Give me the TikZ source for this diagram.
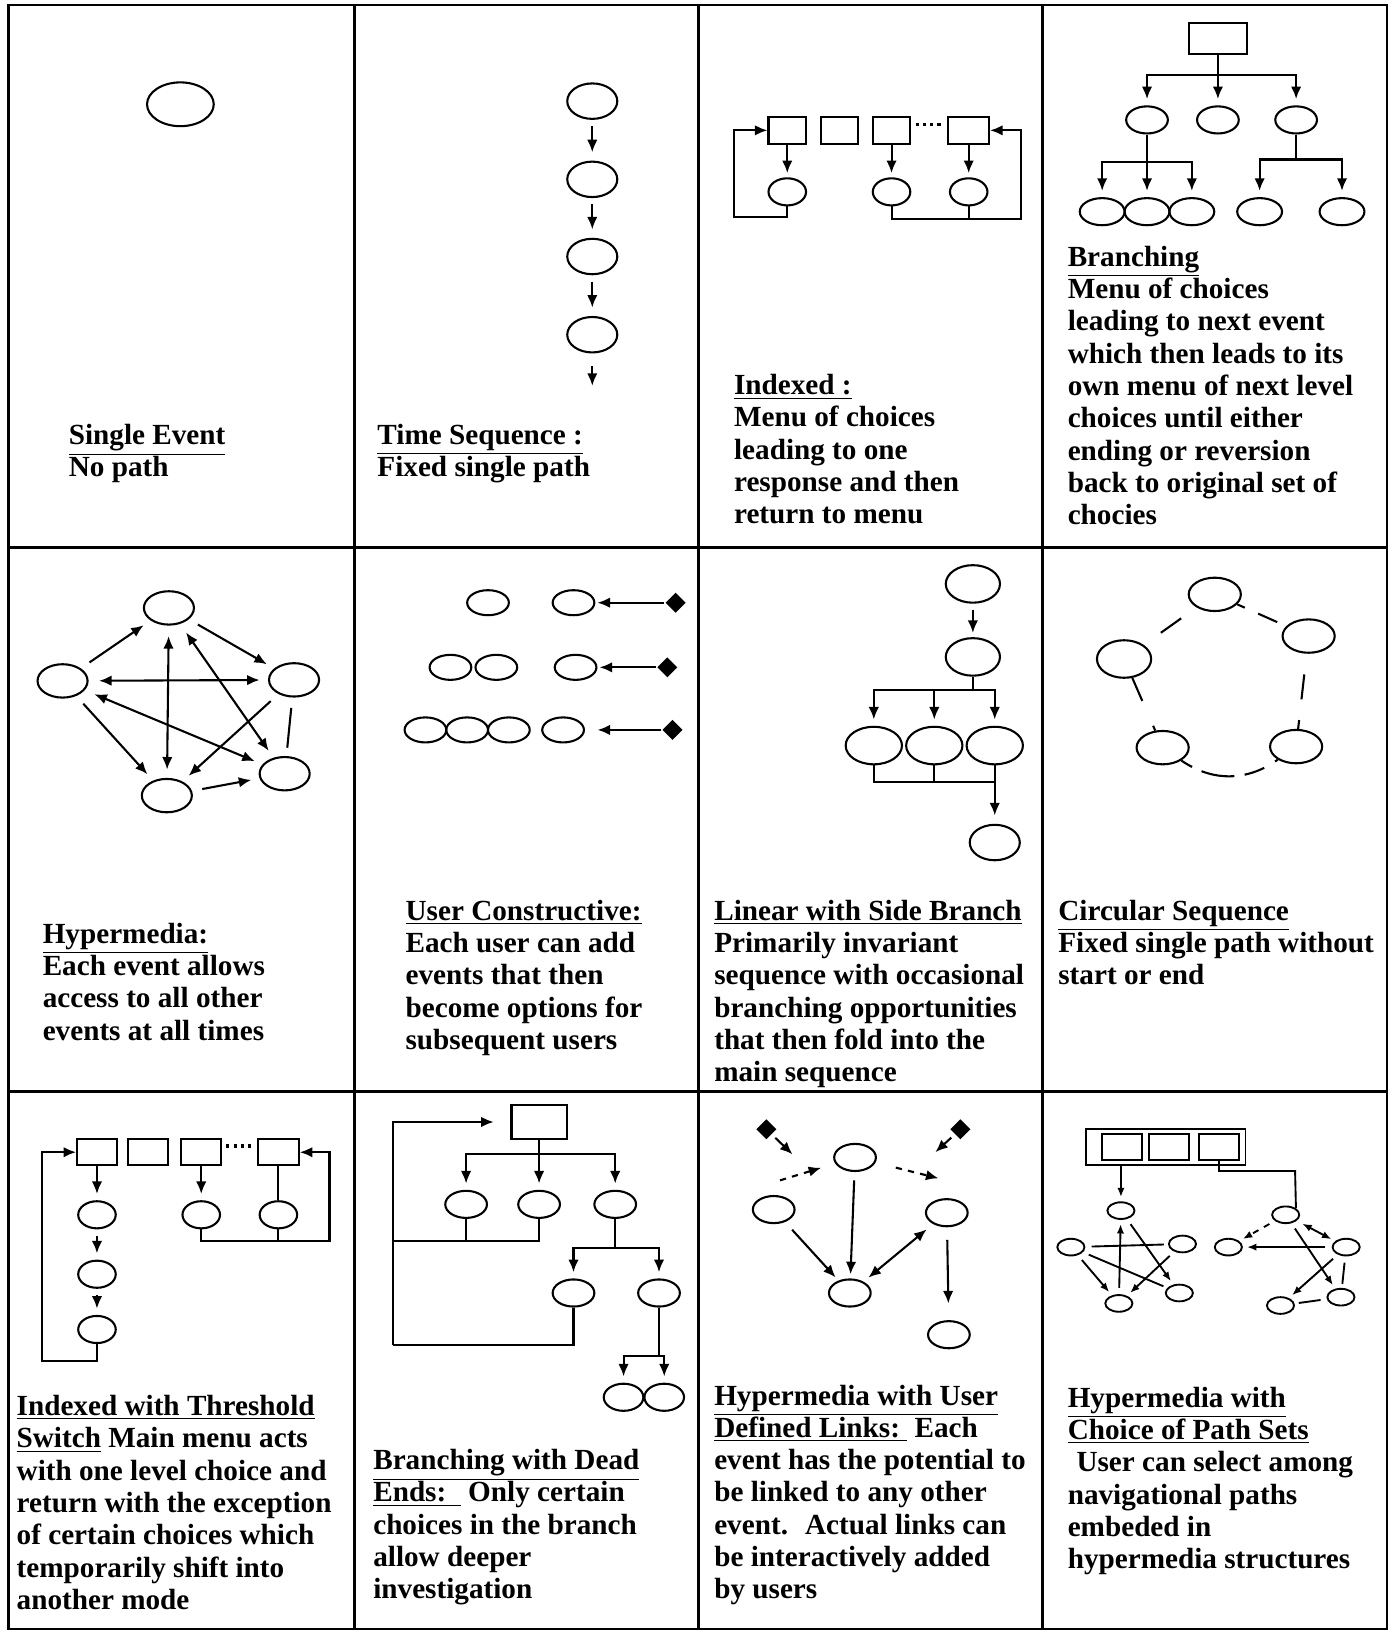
\documentclass[tikz,border=0pt]{standalone}
\usepackage{fontspec}
\setmainfont{Liberation Serif}
\usetikzlibrary{shapes.geometric,arrows.meta}

\tikzset{
  ev/.style 2 args={ellipse,draw,inner sep=0pt,minimum width={#1pt},minimum height={#2pt}},
  menubox/.style 2 args={rectangle,draw,inner sep=0pt,minimum width={#1pt},minimum height={#2pt}},
  user/.style={diamond,fill=black,inner sep=0pt,minimum size=10pt},
  arr/.style={->},
  arrs/.style={<->},
  cellnote/.style={anchor=north west,inner sep=0pt,align=left,font=\fontsize{14}{15.5}\selectfont\bfseries}
}

\begin{document}
\begin{tikzpicture}[x=0.5pt,y=-0.5pt,line width=1pt,>={Latex[length=6pt,width=5pt]}]
\useasboundingbox (0,0) rectangle (1336,1568);

\draw[line width=1.2pt] (8,5) rectangle (1330,1562);
\draw[line width=1.2pt] (340,5) -- (340,1562) (670,5) -- (670,1562) (1000,5) -- (1000,1562);
\draw[line width=1.2pt] (8,525) -- (1330,525) (8,1047) -- (1330,1047);

% single event
\node[ev={32}{21}] (single) at (173,100) {};
\node[cellnote] (t1) at (65,406) {\underline{Single Event}\\No path};

% time sequence
\node[ev={24}{17}] (ts1) at (568,97) {};
\node[ev={24}{17}] (ts2) at (568,172) {};
\node[ev={24}{17}] (ts3) at (568,246) {};
\node[ev={24}{17}] (ts4) at (568,321) {};
\coordinate (tsend) at (568,370);
\draw[arr,shorten <=3pt,shorten >=4pt] (ts1) -- (ts2);
\draw[arr,shorten <=3pt,shorten >=4pt] (ts2) -- (ts3);
\draw[arr,shorten <=3pt,shorten >=4pt] (ts3) -- (ts4);
\draw[arr,shorten <=6pt] (ts4) -- (tsend);
\node[cellnote] (t2) at (361,406) {\underline{Time Sequence :}\\Fixed single path};

% indexed
\node[menubox={18}{13}] (ix1) at (755,125) {};
\node[menubox={18}{13}] (ix2) at (805,125) {};
\node[menubox={18}{13}] (ix3) at (855,125) {};
\node[menubox={19.5}{13}] (ix4) at (929,125) {};
\draw[dotted,line width=1.5pt,shorten <=2pt,shorten >=2pt] ([yshift=3pt]ix3.east) -- ([yshift=3pt]ix4.west);
\node[ev={18}{13}] (ixa) at (755,184) {};
\node[ev={18}{13}] (ixb) at (855,184) {};
\node[ev={18}{13}] (ixc) at (929,184) {};
\draw[arr,shorten >=2pt] (ix1.south) -- (ixa.north);
\draw[arr,shorten >=2pt] (ix3.south) -- (ixb.north);
\draw[arr,shorten >=2pt] (ix4.south) -- (ixc.north);
\coordinate (ixl) at (704,208);
\coordinate (ixr) at (979,210);
\draw[arr] (ixa.south) |- (ixl) |- (ix1.west);
\draw[arr] (ixb.south) |- (ixr) |- (ix4.east);
\draw (ixc.south) -- (ixc.south |- ixr);
\node[cellnote] (t3) at (703,358) {\underline{Indexed :}\\Menu of choices\\leading to one\\response and then\\return to menu};

% branching
\node[menubox={27.5}{15}] (br0) at (1168,37) {};
\node[ev={20}{13}] (br1) at (1100,115) {};
\node[ev={20}{13}] (br2) at (1168,115) {};
\node[ev={20}{13}] (br3) at (1243,115) {};
\node[ev={21.5}{13}] (br11) at (1057,203) {};
\node[ev={21.5}{13}] (br12) at (1100,203) {};
\node[ev={21.5}{13}] (br13) at (1143,203) {};
\node[ev={21.5}{13}] (br31) at (1208,203) {};
\node[ev={21.5}{13}] (br32) at (1287,203) {};
\coordinate (brj) at (1168,72);
\coordinate (brk) at (1100,155);
\coordinate (brm) at (1243,153);
\draw (br0.south) -- (brj);
\draw[arr,shorten >=3pt] (brj) -| (br1.north);
\draw[arr,shorten >=3pt] (brj) -- (br2.north);
\draw[arr,shorten >=3pt] (brj) -| (br3.north);
\draw (br1.south) -- (brk);
\draw[arr,shorten >=3pt] (brk) -| (br11.north);
\draw[arr,shorten >=3pt] (brk) -- (br12.north);
\draw[arr,shorten >=3pt] (brk) -| (br13.north);
\draw (br3.south) -- (brm);
\draw[arr,shorten >=3pt] (brm) -| (br31.north);
\draw[arr,shorten >=3pt] (brm) -| (br32.north);
\node[cellnote] (t4) at (1023,235) {\underline{Branching}\\Menu of choices\\leading to next event\\which then leads to its\\own menu of next level\\choices until either\\ending or reversion\\back to original set of\\chocies};

% hypermedia
\node[ev={24}{16}] (hy1) at (162,583) {};
\node[ev={24}{16}] (hy2) at (60,653) {};
\node[ev={24}{16}] (hy3) at (282,652) {};
\node[ev={24}{16}] (hy4) at (273,742) {};
\node[ev={24}{16}] (hy5) at (160,763) {};
\begin{scope}[shorten <=5pt,shorten >=4pt]
\draw[arr] (hy2) -- (hy1);
\draw[arr] (hy1) -- (hy3);
\draw[arrs] (hy2) -- (hy3);
\draw[arrs] (hy1) -- (hy5);
\draw[arrs] (hy1) -- (hy4);
\draw[arrs] (hy2) -- (hy4);
\draw[arr] (hy3) -- (hy5);
\draw[arr] (hy2) -- (hy5);
\draw (hy3) -- (hy4);
\draw[arr] (hy5) -- (hy4);
\end{scope}
\node[cellnote] (t5) at (40,884) {\underline{Hypermedia:}\\Each event allows\\access to all other\\events at all times};

% user constructive
\node[ev={20}{12}] (uc11) at (468,578) {};
\node[ev={20}{12}] (uc12) at (550,578) {};
\node[user] (ud1) at (648,578) {};
\node[ev={20}{12}] (uc21) at (432,640) {};
\node[ev={20}{12}] (uc22) at (476,640) {};
\node[ev={20}{12}] (uc23) at (552,640) {};
\node[user] (ud2) at (640,640) {};
\node[ev={20}{12}] (uc31) at (408,700) {};
\node[ev={20}{12}] (uc32) at (448,700) {};
\node[ev={20}{12}] (uc33) at (488,700) {};
\node[ev={20}{12}] (uc34) at (540,700) {};
\node[user] (ud3) at (645,700) {};
\draw[arr,shorten >=1pt] (ud1) -- (uc12);
\draw[arr,shorten >=1pt] (ud2) -- (uc23);
\draw[arr,shorten >=6pt] (ud3) -- (uc34);
\node[cellnote] (t6) at (388,862) {\underline{User Constructive:}\\Each user can add\\events that then\\become options for\\subsequent users};

% linear with side branch
\node[ev={26}{18}] (ls1) at (933,560) {};
\node[ev={26}{18}] (ls2) at (933,630) {};
\node[ev={27}{18}] (ls3) at (838,715) {};
\node[ev={27}{18}] (ls4) at (896,715) {};
\node[ev={27}{18}] (ls5) at (954,715) {};
\node[ev={24}{17}] (ls6) at (954,808) {};
\coordinate (lsj) at (933,662);
\coordinate (lsm) at (954,750);
\draw[arr,shorten <=3pt,shorten >=2pt] (ls1) -- (ls2);
\draw (ls2.south) -- (lsj);
\draw[arr,shorten >=3pt] (lsj) -| (ls3.north);
\draw[arr,shorten >=3pt] (lsj) -| (ls4.north);
\draw[arr,shorten >=3pt] (lsj) -| (ls5.north);
\draw (ls3.south) |- (lsm);
\draw (ls4.south) -- (ls4.south |- lsm);
\draw[arr,shorten >=4pt] (ls5.south) -- (ls6.north);
\node[cellnote] (t7) at (684,862) {\underline{Linear with Side Branch}\\Primarily invariant\\sequence with occasional\\branching opportunities\\that then fold into the\\main sequence};

% circular sequence
\node[ev={25}{16}] (cs1) at (1165,570) {};
\node[ev={25}{16}] (cs2) at (1255,610) {};
\node[ev={25}{16}] (cs3) at (1243,716) {};
\node[ev={25}{16}] (cs4) at (1115,717) {};
\node[ev={26}{18}] (cs5) at (1078,632) {};
\draw[shorten <=10pt,shorten >=9pt] (cs5) -- (cs1);
\draw[dash pattern=on 4pt off 7pt on 10pt off 30pt] (cs1) -- (cs2);
\draw[dash pattern=on 0pt off 10pt on 12pt off 10pt on 4pt] (cs2) -- (cs3);
\draw[dash pattern=on 6pt off 5pt on 16pt off 5pt on 10pt] (cs4) to[bend right=35] (cs3);
\draw[dash pattern=on 12pt off 13pt on 4pt] (cs5) -- (cs4);
\node[cellnote] (t8) at (1014,862) {\underline{Circular Sequence}\\Fixed single path without\\start or end};

% indexed with threshold switch
\node[menubox={19}{12.5}] (th1) at (93,1105) {};
\node[menubox={19}{12.5}] (th2) at (142,1105) {};
\node[menubox={19}{12.5}] (th3) at (193,1105) {};
\node[menubox={19.5}{12.5}] (th4) at (267,1105) {};
\draw[dotted,line width=1.5pt,shorten <=2pt,shorten >=2pt] ([yshift=3pt]th3.east) -- ([yshift=3pt]th4.west);
\node[ev={18}{13}] (tha) at (93,1165) {};
\node[ev={18}{13}] (thb) at (93,1222) {};
\node[ev={18}{13}] (thc) at (93,1275) {};
\node[ev={18}{13}] (thd) at (193,1165) {};
\node[ev={18}{13}] (the) at (267,1165) {};
\draw[arr,shorten >=3pt] (th1.south) -- (tha.north);
\draw[arr,shorten <=3pt,shorten >=3pt] (tha.south) -- (thb.north);
\draw[arr,shorten <=3pt,shorten >=3pt] (thb.south) -- (thc.north);
\draw[arr,shorten >=3pt] (th3.south) -- (thd.north);
\draw (th4.south) -- (the.north);
\coordinate (thl) at (40,1305);
\coordinate (thr) at (316,1190);
\draw[arr] (thc.south) |- (thl) |- (th1.west);
\draw[arr] (thd.south) |- (thr) |- (th4.east);
\draw (the.south) -- (the.south |- thr);
\node[cellnote] (t9) at (15,1337) {\underline{Indexed with Threshold}\\\underline{Switch} Main menu acts\\with one level choice and\\return with the exception\\of certain choices which\\temporarily shift into\\another mode};

% branching with dead ends
\node[menubox={26.5}{16}] (dbox) at (517,1076) {};
\node[ev={20}{13}] (de1) at (447,1155) {};
\node[ev={20}{13}] (de2) at (517,1155) {};
\node[ev={20}{13}] (de3) at (590,1155) {};
\node[ev={20}{13}] (de31) at (550,1240) {};
\node[ev={20}{13}] (de32) at (632,1240) {};
\node[ev={19}{13}] (de321) at (598,1340) {};
\node[ev={19}{13}] (de322) at (637,1340) {};
\coordinate (dtop) at (517,1107);
\coordinate (dl1) at (377,1190);
\coordinate (dl2) at (377,1290);
\coordinate (dm) at (590,1197);
\coordinate (dn) at (632,1300);
\draw (dbox.south) -- (dtop);
\draw[arr,shorten >=3pt] (dtop) -| (de1.north);
\draw[arr,shorten >=3pt] (dtop) -- (de2.north);
\draw[arr,shorten >=3pt] (dtop) -| (de3.north);
\draw (de2.south) |- (dl1);
\draw (de1.south) -- (de1.south |- dl1);
\draw (de31.south) |- (dl2);
\draw[arr,shorten >=8pt] (dl2) |- (dbox.west);
\draw (de3.south) -- (dm);
\draw[arr,shorten >=3pt] (dm) -| (de31.north);
\draw[arr,shorten >=3pt] (dm) -| (de32.north);
\draw (de32.south) -- (dn);
\draw[arr,shorten >=3pt] (dn) -| (de321.north);
\draw[arr,shorten >=3pt] (dn) -| (de322.north);
\node[cellnote] (t10) at (357,1389) {\underline{Branching with Dead}\\\underline{Ends:~~} Only certain\\choices in the branch\\allow deeper\\investigation};

% hypermedia with user defined links
\node[ev={20}{13}] (hut) at (820,1110) {};
\node[ev={20}{13}] (hul) at (742,1160) {};
\node[ev={20}{13}] (hur) at (908,1163) {};
\node[ev={20}{13}] (hub) at (815,1240) {};
\node[ev={20}{13}] (hubr) at (910,1280) {};
\node[user] (hud1) at (735,1083) {};
\node[user] (hud2) at (921,1083) {};
\coordinate (hup1) at (760,1107);
\coordinate (hun1) at (748,1132);
\coordinate (hup2) at (897,1105);
\coordinate (hun2) at (900,1130);
\draw[arr,shorten <=2pt] (hud1) -- (hup1);
\draw[arr,dashed,shorten >=7pt] (hun1) -- (hut);
\draw[arr,shorten <=2pt] (hud2) -- (hup2);
\draw[arr,dashed,shorten <=10pt] (hut) -- (hun2);
\draw[arr,shorten <=4pt,shorten >=2pt] (hut) -- (hub);
\draw[arr,shorten <=5pt,shorten >=2pt] (hul) -- (hub);
\draw[arrs,shorten <=4pt,shorten >=3pt] (hur) -- (hub);
\draw[arr,shorten <=6pt,shorten >=8pt] (hur) -- (hubr);
\node[cellnote] (t11) at (684,1327) {\underline{Hypermedia with User}\\\underline{Defined Links:~} Each\\event has the potential to\\be linked to any other\\event.~ Actual links can\\be interactively added\\by users};

% hypermedia with choice of path sets
\begin{scope}[line width=0.9pt,>={Latex[length=4.5pt,width=3.5pt]}]
\node[menubox={76.5}{17}] (pbox) at (1118,1100) {};
\node[menubox={19}{12.5}] (pb1) at (1076,1100) {};
\node[menubox={19}{12.5}] (pb2) at (1121,1100) {};
\node[menubox={19}{12.5}] (pb3) at (1169,1100) {};
\node[ev={13}{8}] (pl1) at (1075,1161) {};
\node[ev={13}{8}] (pl2) at (1027,1196) {};
\node[ev={13}{8}] (pl3) at (1134,1193) {};
\node[ev={13}{8}] (pl4) at (1131,1240) {};
\node[ev={13}{8}] (pl5) at (1073,1250) {};
\node[ev={13}{8}] (pr1) at (1233,1165) {};
\node[ev={13}{8}] (pr2) at (1178,1196) {};
\node[ev={13}{8}] (pr3) at (1291,1196) {};
\node[ev={13}{8}] (pr4) at (1286,1244) {};
\node[ev={13}{8}] (pr5) at (1228,1252) {};
\coordinate (prk) at (1242,1123);
\draw[arr,shorten >=2pt] (pl1.north |- pbox.south) -- (pl1.north);
\draw (pb3.south) |- (prk) -- (pr1.north east);
\begin{scope}[shorten <=3pt,shorten >=2pt]
\draw[arr] (pl5) -- (pl1);
\draw (pl2) -- (pl3);
\draw[arr] (pl1) -- (pl4);
\draw[arr] (pl2) -- (pl5);
\draw (pl2) -- (pl4);
\draw[arr] (pl3) -- (pl5);
\draw[arr,dashed] (pr1) -- (pr2);
\draw[arrs] (pr1) -- (pr3);
\draw[arr] (pr3) -- (pr2);
\draw[arr] (pr1) -- (pr4);
\draw[arr] (pr3) -- (pr5);
\draw (pr3) -- (pr4);
\draw (pr4) -- (pr5);
\end{scope}
\end{scope}
\node[cellnote] (t12) at (1023,1329) {\underline{Hypermedia with}\\\underline{Choice of Path Sets}\\\hspace{0.3em}User can select among\\navigational paths\\embeded in\\hypermedia structures};
\end{tikzpicture}
\end{document}
